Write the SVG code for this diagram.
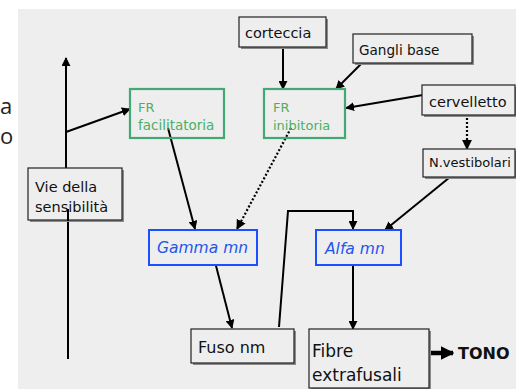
<svg xmlns="http://www.w3.org/2000/svg" width="516" height="389" viewBox="0 0 516 389">
<defs>
<marker id="ah" viewBox="0 0 10 10" refX="9" refY="5" markerWidth="4.5" markerHeight="4.5" orient="auto" markerUnits="strokeWidth">
<path d="M0,0 L10,5 L0,10 z" fill="#000"/>
</marker>
<marker id="ahb" viewBox="0 0 10 10" refX="9" refY="5" markerWidth="3" markerHeight="3.4" orient="auto" markerUnits="strokeWidth">
<path d="M0,0 L10,5 L0,10 z" fill="#000"/>
</marker>
</defs>
<style>
text{font-family:"DejaVu Sans","Liberation Sans",sans-serif;}
.bx{fill:#eeeeee;stroke:#222;stroke-width:1.2;}
.sh{fill:#8a8a8a;}
.gr{fill:none;stroke:#44a874;stroke-width:2.2;}
.bl{fill:#eeeeee;stroke:#1a50ff;stroke-width:2;}
.t{font-size:14.5px;fill:#111;}
.tg{font-size:13px;fill:#4cae60;}
.tb{font-size:15.5px;fill:#1f55ee;font-style:italic;}
.ln{fill:none;stroke:#000;stroke-width:2;}
.dt{fill:none;stroke:#000;stroke-width:2.2;stroke-dasharray:2 2;}
.big{font-family:"Open Sans","Noto Sans",sans-serif;font-size:22px;fill:#222;}
</style>
<rect x="0" y="0" width="516" height="389" fill="#ffffff"/>
<rect x="18" y="9" width="498" height="380" fill="#eeeeee"/>
<text class="big" x="0" y="114">a</text>
<text class="big" x="0" y="144">o</text>

<g id="connectors">
<line class="ln" x1="66" y1="168" x2="66" y2="58" marker-end="url(#ah)"/>
<line class="ln" x1="68" y1="209" x2="68" y2="359"/>
<line class="ln" x1="66" y1="132" x2="130" y2="109" marker-end="url(#ah)"/>
<line class="ln" x1="168" y1="128" x2="195" y2="229" marker-end="url(#ah)"/>
<line class="dt" x1="291" y1="128" x2="237" y2="229" marker-end="url(#ah)"/>
<line class="ln" x1="214" y1="258" x2="232" y2="328" marker-end="url(#ah)"/>
<polyline class="ln" points="279,327 288,211 353,211 353,229" marker-end="url(#ah)"/>
<line class="ln" x1="455" y1="173" x2="385" y2="230" marker-end="url(#ah)"/>
<line class="ln" x1="353" y1="258" x2="353" y2="329" marker-end="url(#ah)"/>
<line class="ln" x1="283" y1="38" x2="283" y2="89" marker-end="url(#ah)"/>
<line class="ln" x1="367" y1="58" x2="336" y2="89" marker-end="url(#ah)"/>
<line class="ln" x1="423" y1="95" x2="346" y2="108" marker-end="url(#ah)"/>
<line class="dt" x1="467" y1="114" x2="467" y2="149" marker-end="url(#ah)"/>
<line x1="430" y1="353" x2="453" y2="353" stroke="#000" stroke-width="4.5" marker-end="url(#ahb)"/>
</g>

<g id="corteccia">
<rect class="sh" x="241" y="19" width="87" height="30"/>
<rect class="bx" x="239" y="17" width="87" height="30"/>
<text class="t" x="245" y="38">corteccia</text>
</g>
<g id="gangli-base">
<rect class="sh" x="355" y="36" width="119" height="29"/>
<rect class="bx" x="353" y="34" width="119" height="29"/>
<text class="t" x="359" y="55" style="font-size:13.6px">Gangli base</text>
</g>
<g id="fr-facilitatoria">
<rect class="gr" x="130" y="89" width="94" height="49"/>
<text class="tg" x="138" y="112">FR</text>
<text class="tg" x="138" y="130" style="font-size:13.5px">facilitatoria</text>
</g>
<g id="fr-inibitoria">
<rect class="gr" x="264" y="89" width="81" height="49"/>
<text class="tg" x="273" y="112">FR</text>
<text class="tg" x="273" y="130">inibitoria</text>
</g>
<g id="cervelletto">
<rect class="sh" x="424" y="87" width="93" height="30"/>
<rect class="bx" x="422" y="85" width="93" height="30"/>
<text class="t" x="429" y="107">cervelletto</text>
</g>
<g id="n-vestibolari">
<rect class="sh" x="425" y="151" width="92" height="28"/>
<rect class="bx" x="423" y="149" width="92" height="28"/>
<text class="t" x="429" y="167" style="font-size:13px">N.vestibolari</text>
</g>
<g id="vie-sensibilita">
<rect class="sh" x="30" y="170" width="94" height="52"/>
<rect class="bx" x="28" y="168" width="94" height="52"/>
<text class="t" x="35" y="192">Vie della</text>
<text class="t" x="35" y="212">sensibilità</text>
</g>
<line class="ln" x1="68" y1="209" x2="68" y2="221"/>
<g id="gamma-mn">
<rect class="bl" x="149" y="230" width="108" height="35"/>
<text class="tb" x="157" y="253">Gamma mn</text>
</g>
<g id="alfa-mn">
<rect class="bl" x="316" y="230" width="85" height="35"/>
<text class="tb" x="325" y="254">Alfa mn</text>
</g>
<g id="fuso-nm">
<rect class="sh" x="193" y="331" width="103" height="34"/>
<rect class="bx" x="191" y="329" width="103" height="34"/>
<text class="t" x="198" y="353" style="font-size:16px">Fuso nm</text>
</g>
<g id="fibre-extrafusali">
<rect class="sh" x="311" y="331" width="120" height="60"/>
<rect class="bx" x="309" y="329" width="120" height="59"/>
<text class="t" x="312" y="357" style="font-size:17px">Fibre</text>
<text class="t" x="312" y="381" style="font-size:17px">extrafusali</text>
</g>
<g id="tono">
<text x="458" y="359" style="font-size:16px;font-weight:bold;fill:#111">TONO</text>
</g>
</svg>
